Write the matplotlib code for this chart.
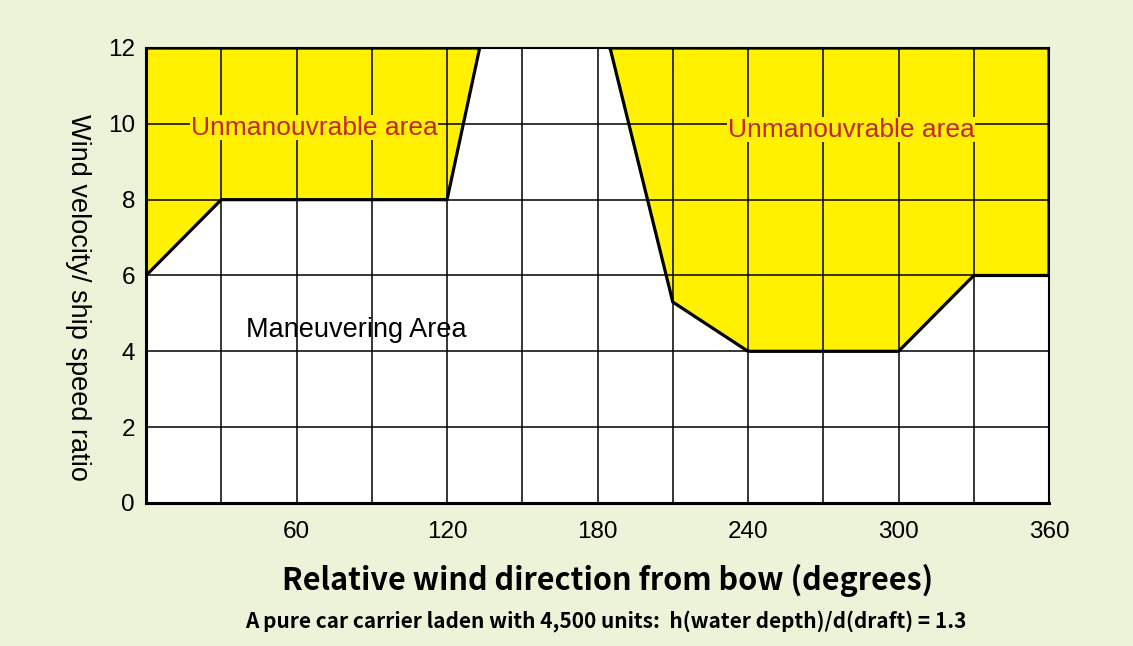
import matplotlib.pyplot as plt
import numpy as np

# boundary of the unmanoeuvrable zones (wind direction deg, velocity ratio)
left_dir = [0, 30, 120, 133]
left_ratio = [6, 8, 8, 12]
right_dir = [185, 210, 240, 300, 330, 360]
right_ratio = [12, 5.3, 4, 4, 6, 6]
ratio_max = 12

xticks = [60, 120, 180, 240, 300, 360]
yticks = [0, 2, 4, 6, 8, 10, 12]

bg = "#edf3d8"
yellow = "#fff100"
red = "#c1272d"

plt.rcParams['font.family'] = ['Liberation Sans', 'DejaVu Sans']

fig = plt.figure(figsize=(11.33, 6.46), dpi=100, facecolor=bg)
ax = fig.add_axes([0.1289, 0.2214, 0.797, 0.7043])
ax.set_facecolor("white")

# yellow zones, closed along the top edge
for xs, ys in [(left_dir, left_ratio), (right_dir, right_ratio)]:
    px = list(xs) + [xs[-1], xs[0]]
    py = list(ys) + [ratio_max, ratio_max]
    ax.fill(px, py, color=yellow, zorder=1, lw=0)
    ax.plot(px + [px[0]], py + [py[0]], color="black", lw=2.3, zorder=3,
            solid_joinstyle="miter")

ax.set_xlim(0, 360)
ax.set_ylim(0, 12)
ax.set_xticks(np.arange(0, 361, 30), minor=True)
ax.set_xticks(xticks)
ax.set_yticks(yticks)
ax.grid(True, which="both", color="black", lw=1.1, zorder=2)
ax.set_axisbelow(False)
ax.tick_params(axis="both", which="both", length=0, labelsize=17.5, pad=8)
ax.tick_params(axis="x", pad=13)
for side in ["left", "bottom"]:
    ax.spines[side].set_linewidth(2.2)
for side in ["top", "right"]:
    ax.spines[side].set_linewidth(1.5)

lbl = dict(color=red, fontsize=19, ha="center", va="center", zorder=4,
           bbox=dict(facecolor=yellow, edgecolor="none", pad=0.5))
ax.text(67, 9.9, "Unmanouvrable area", **lbl)
ax.text(281, 9.85, "Unmanouvrable area", **lbl)
ax.text(84, 4.55, "Maneuvering Area", fontsize=19.5, ha="center", va="center",
        zorder=4)

fig.text(0.069, 0.54, "Wind velocity/ ship speed ratio", rotation=270,
         fontsize=19.5, ha="center", va="center")

cond = ['Liberation Sans Narrow', 'Noto Sans CJK JP', 'DejaVu Sans']
fig.text(0.536, 0.102, "Relative wind direction from bow (degrees)",
         family=cond, fontsize=22, fontweight="bold", ha="center", va="center")
fig.text(0.535, 0.038,
         "A pure car carrier laden with 4,500 units:  h(water depth)/d(draft) = 1.3",
         family=cond, fontsize=15, fontweight="bold", ha="center", va="center")

fig.savefig("out.png", dpi=100, facecolor=bg)
